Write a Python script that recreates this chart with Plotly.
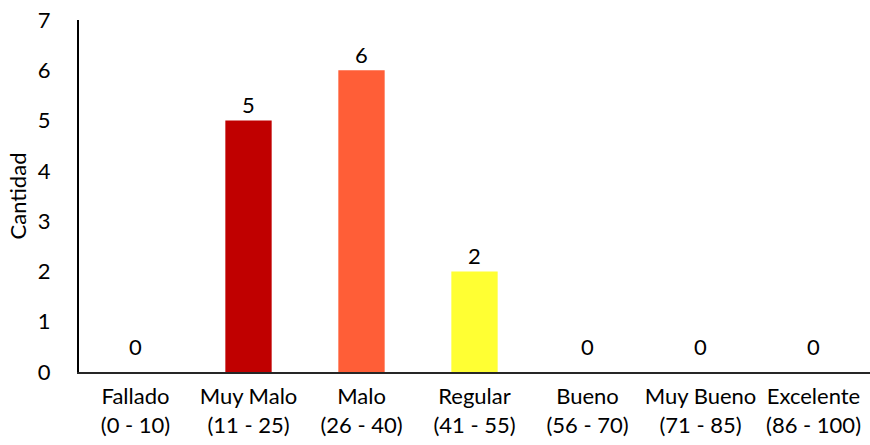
import plotly.graph_objects as go

# Score bands and how many fall into each
categorias = ["Fallado", "Muy Malo", "Malo", "Regular", "Bueno", "Muy Bueno", "Excelente"]
rangos = ["(0 - 10)", "(11 - 25)", "(26 - 40)", "(41 - 55)", "(56 - 70)", "(71 - 85)", "(86 - 100)"]
cantidad = [0, 5, 6, 2, 0, 0, 0]
colores = ["#C00000", "#C00000", "#FF5E37", "#FFFF33", "#70AD47", "#00B050", "#00B0F0"]

FONT = "Lato, Calibri, sans-serif"
SIZE = 22
etiquetas = [f"{c}<br>{r}" for c, r in zip(categorias, rangos)]

fig = go.Figure()
fig.add_trace(go.Bar(
    x=etiquetas,
    y=cantidad,
    marker=dict(color=colores, line=dict(width=0)),
    width=0.41,
    showlegend=False,
))

# value labels above each bar
for x, v in zip(etiquetas, cantidad):
    fig.add_annotation(
        x=x, y=v, text=str(v), showarrow=False,
        xref="x", yref="y", yanchor="middle",
        yshift=26 if v == 0 else 16,
        font=dict(family=FONT, size=SIZE, color="#000000"),
    )

fig.update_layout(
    width=870, height=445,
    margin=dict(l=79, r=0, t=20, b=73),
    paper_bgcolor="white", plot_bgcolor="white",
    font=dict(family=FONT, size=SIZE, color="#000000"),
)
fig.update_xaxes(
    showline=True, linecolor="#262626", linewidth=2,
    showgrid=False, ticks="", tickfont=dict(size=SIZE),
    ticklabelstandoff=4,
)
fig.update_yaxes(
    range=[0, 7], dtick=1, showline=True, linecolor="#000000", linewidth=2,
    showgrid=False, zeroline=False, ticks="", tickfont=dict(size=SIZE),
    ticklabelstandoff=22,
    title=dict(text="Cantidad", font=dict(size=SIZE), standoff=5),
)

fig.write_html("out.html")
